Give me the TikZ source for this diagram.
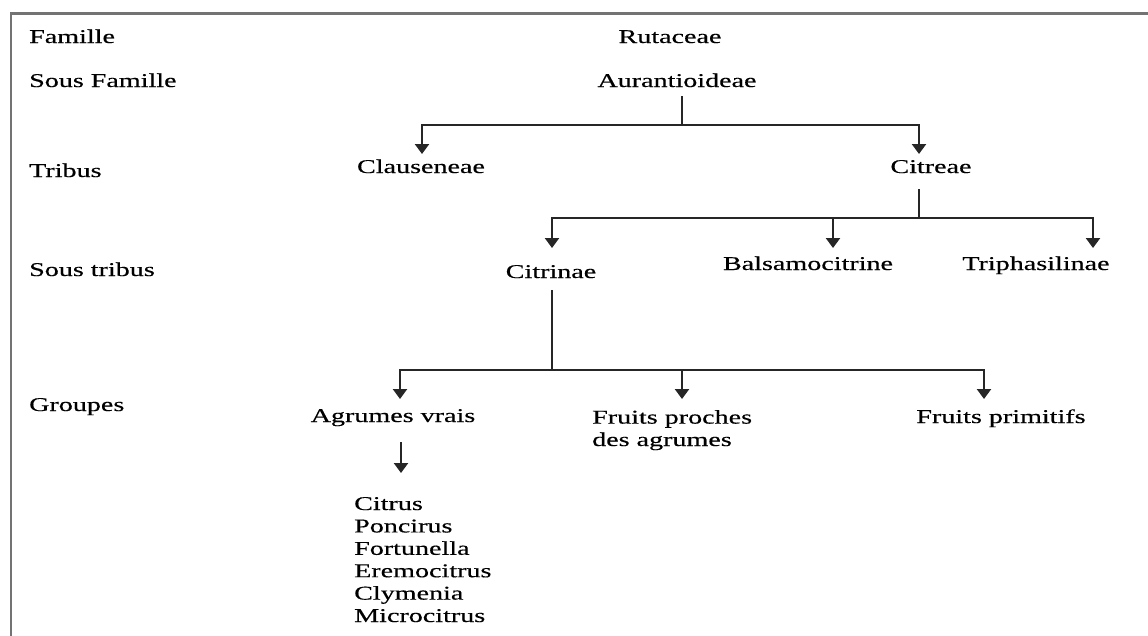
\documentclass[tikz,border=0pt]{standalone}
\usepackage{fontspec}
\setmainfont[FakeStretch=1.44,FakeBold=0.4]{Liberation Serif}
\usetikzlibrary{arrows.meta}
\begin{document}
\begin{tikzpicture}[x=1pt,y=-1pt,
  lbl/.style={inner sep=0pt,font=\fontsize{19.5}{22.4}\selectfont,anchor=base west},
  ctr/.style={inner sep=0pt,font=\fontsize{19.5}{22.4}\selectfont,anchor=base},
  ln/.style={line width=2.3pt,black!85},
  arr/.style={ln,-{Triangle[width=14pt,length=10pt]}},
  frame/.style={line width=2.8pt,black!55}]
\useasboundingbox (0,0) rectangle (1148,635);
\fill[white] (0,0) rectangle (1148,635);
\coordinate (fc) at (11,13.5);
\coordinate (fr) at (1150,13.5);
\coordinate (fb) at (11,640);
\draw[frame] (fr) -- (fc) -- (fb);
% level labels
\node[lbl] (famille) at (29,43) {Famille};
\node[lbl] (sousfam) at (29,87) {Sous Famille};
\node[lbl] (tribus) at (29,177) {Tribus};
\node[lbl] (soustrib) at (29,276) {Sous tribus};
\node[lbl] (groupes) at (29,411) {Groupes};
% taxa
\node[ctr] (rut) at (670,43) {Rutaceae};
\node[ctr] (aur) at (677,87) {Aurantioideae};
\node[ctr] (cla) at (421,173) {Clauseneae};
\node[ctr] (cit) at (931,173) {Citreae};
\node[ctr] (ctn) at (551,278) {Citrinae};
\node[ctr] (bal) at (808,270) {Balsamocitrine};
\node[ctr] (tri) at (1036,270) {Triphasilinae};
\node[ctr] (agr) at (393,422) {Agrumes vrais};
\node[lbl,align=left] (fpa) at (592,446) {Fruits proches\\des agrumes};
\node[ctr] (fpr) at (1001,423) {Fruits primitifs};
\node[lbl,align=left] (list) at (354,622) {Citrus\\Poncirus\\Fortunella\\Eremocitrus\\Clymenia\\Microcitrus};
% connectors
\coordinate (a0) at (682,96);
\coordinate (a1) at (682,125);
\coordinate (ta) at (422,154);
\coordinate (tb) at (919,154);
\draw[ln] (a0) -- (a1);
\draw[arr] (a1) -| (ta);
\draw[arr] (a1) -| (tb);
\coordinate (b0) at (919,189);
\coordinate (b1) at (919,218);
\coordinate (tc) at (552,248);
\coordinate (td) at (833,248);
\coordinate (te) at (1093,248);
\draw[ln] (b0) -- (b1);
\draw[arr] (b1) -| (tc);
\draw[arr] (b1) -| (td);
\draw[arr] (b1) -| (te);
\coordinate (c0) at (552,290);
\coordinate (c1) at (552,370);
\coordinate (tf) at (400,399);
\coordinate (tg) at (682,399);
\coordinate (th) at (984,399);
\draw[ln] (c0) -- (c1);
\draw[arr] (c1) -| (tf);
\draw[arr] (c1) -| (tg);
\draw[arr] (c1) -| (th);
\coordinate (d0) at (401,442);
\coordinate (d1) at (401,473);
\draw[arr] (d0) -- (d1);
\end{tikzpicture}
\end{document}
